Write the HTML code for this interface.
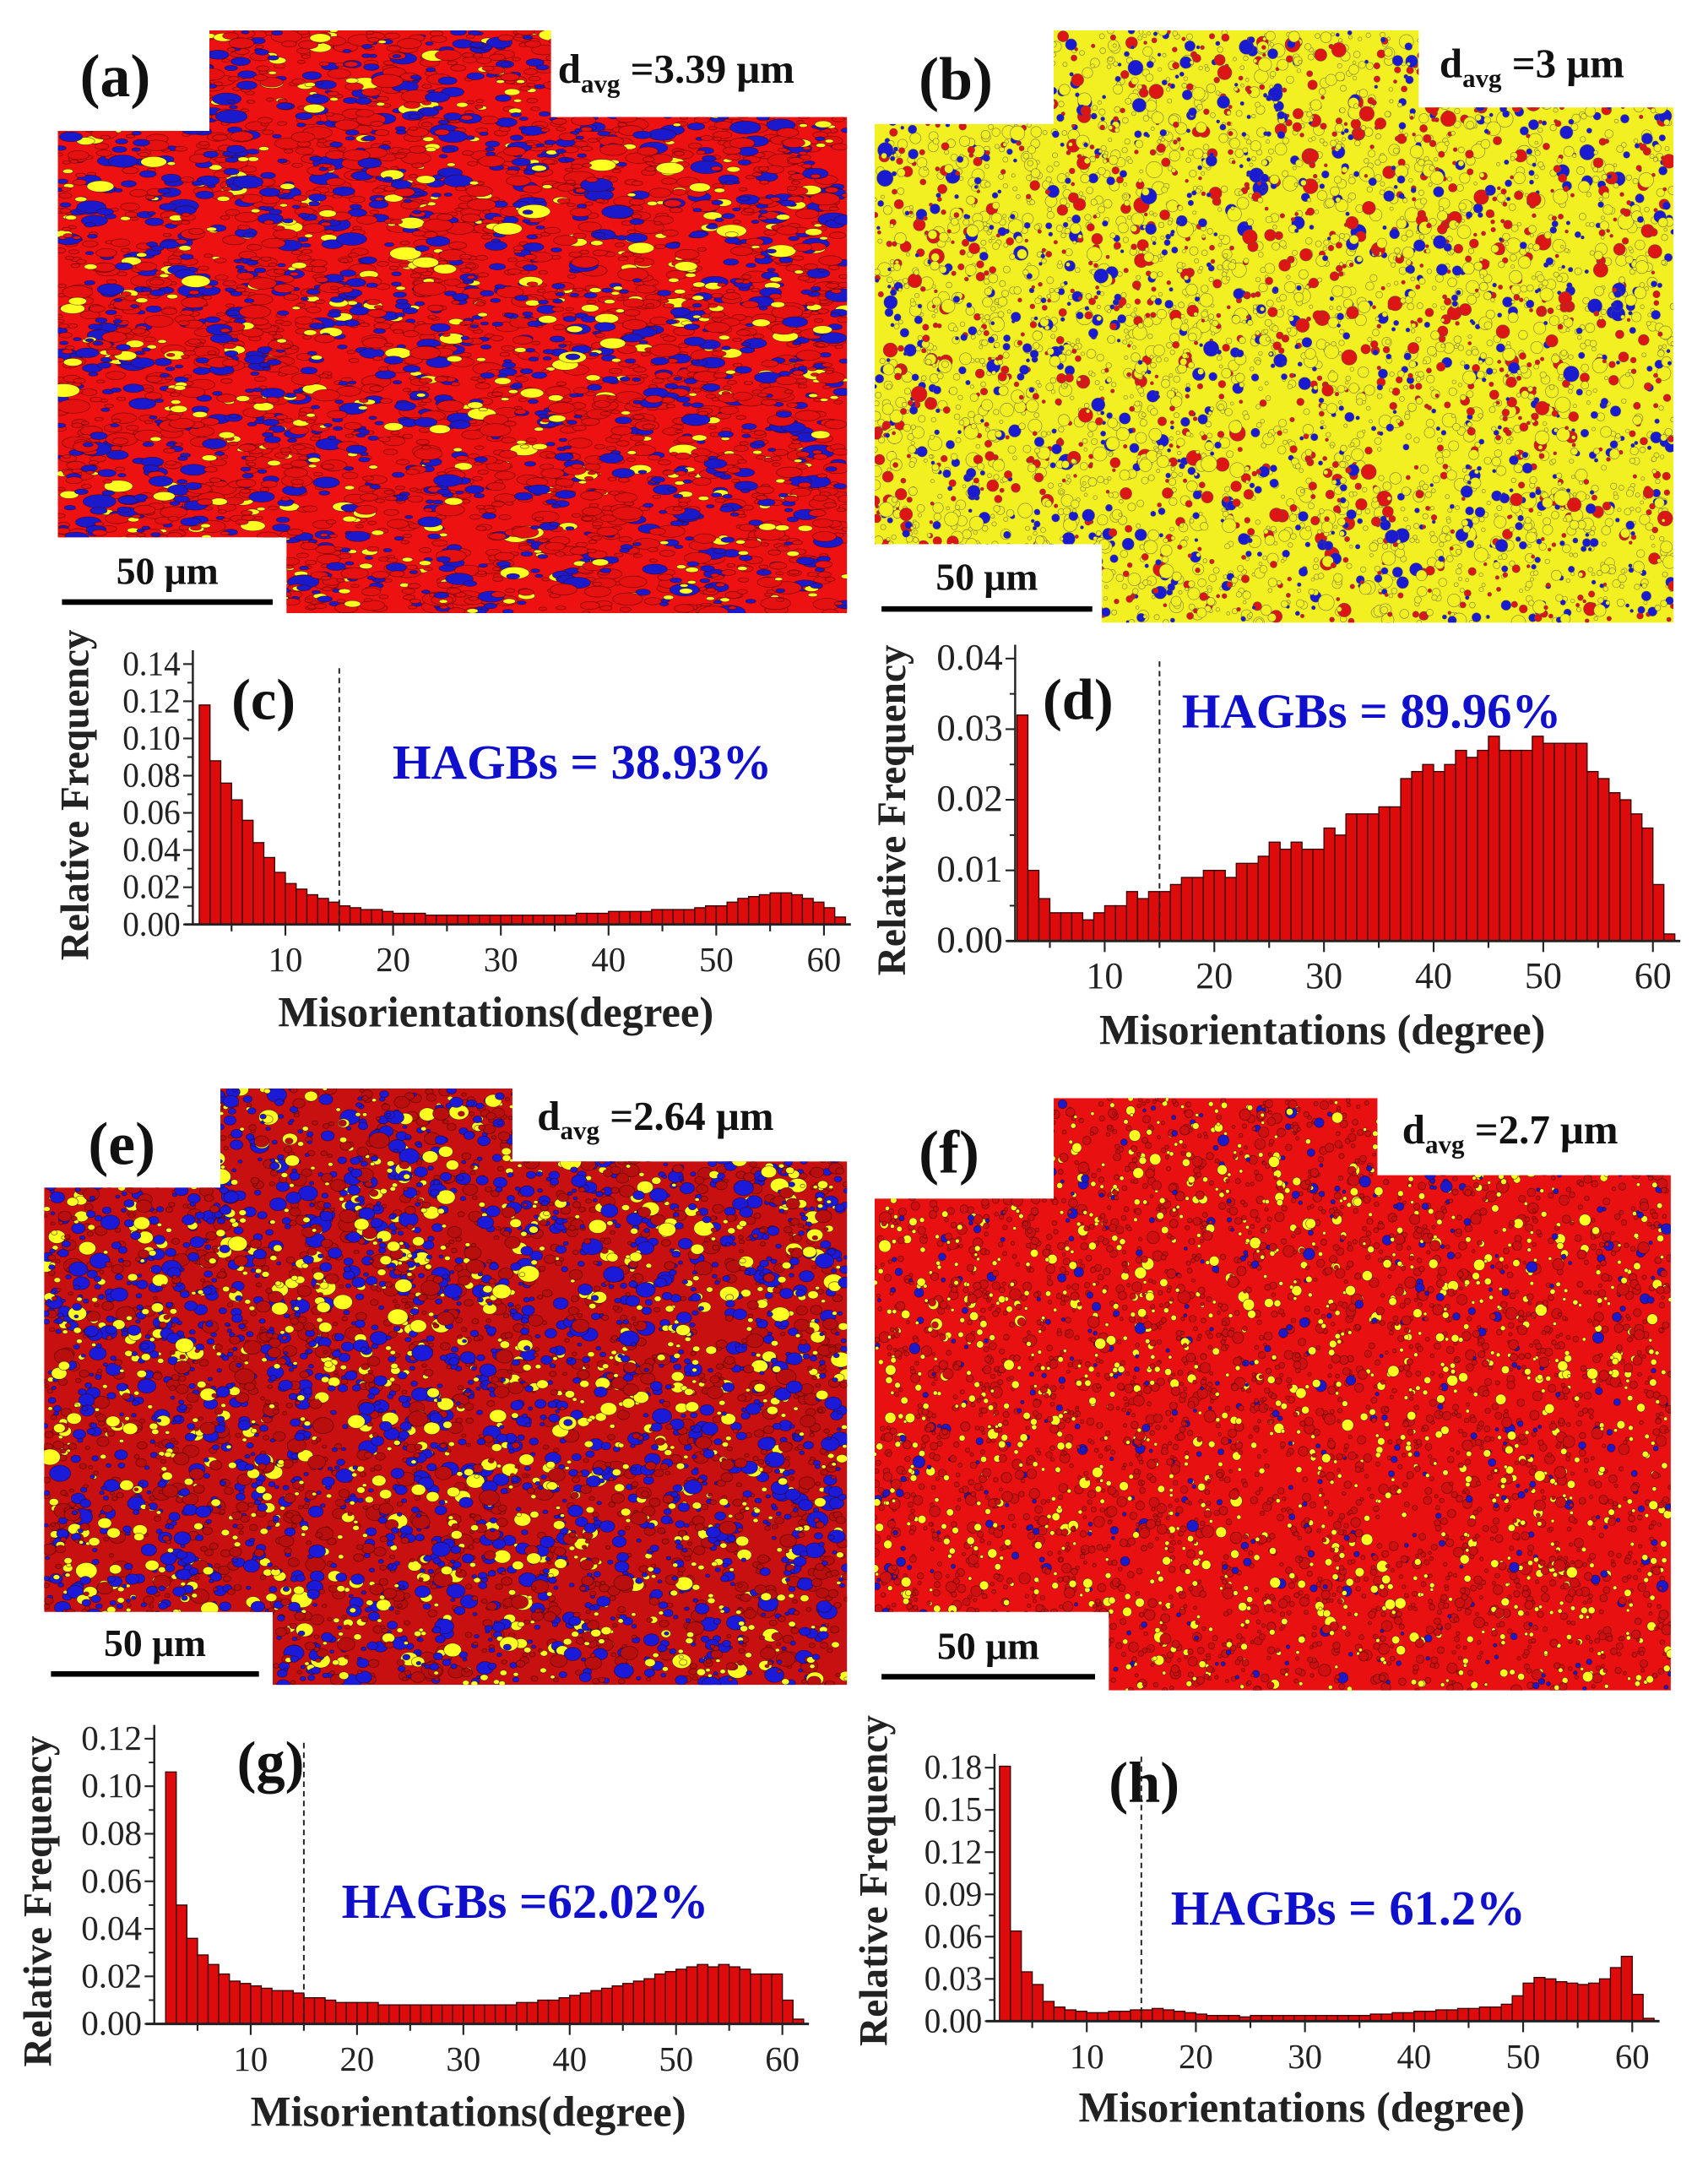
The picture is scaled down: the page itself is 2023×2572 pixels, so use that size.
<!DOCTYPE html>
<html><head><meta charset="utf-8">
<style>
html,body{margin:0;padding:0;background:#fff;}
svg{display:block;}
text{font-family:"Liberation Serif","Times New Roman",serif;}
</style></head>
<body>
<svg id="fig" width="2023" height="2572" viewBox="0 0 1240 1576.5" preserveAspectRatio="none" xmlns="http://www.w3.org/2000/svg">
<rect x="0" y="0" width="1240" height="1576.5" fill="#fff"/>
<defs>
<clipPath id="clipA"><polygon points="152,22 400,22 400,85 615,85 615,445 208,445 208,390 42,390 42,95 152,95"/></clipPath>
<clipPath id="clipB"><polygon points="765,22 1030,22 1030,78 1215,78 1215,452 800,452 800,395 635,395 635,90 765,90"/></clipPath>
<clipPath id="clipE"><polygon points="160,790 372,790 372,843 615,843 615,1223 198,1223 198,1170 32,1170 32,862 160,862"/></clipPath>
<clipPath id="clipF"><polygon points="765,797 1000,797 1000,853 1213,853 1213,1227 805,1227 805,1170 635,1170 635,870 765,870"/></clipPath>
</defs>
<g id="maps"></g>
<g id="charts"></g>
<g id="labels"></g>
</svg>
<script>
// ---------- chart data ----------
const binStart = 2;
const xTickLabels = [10,20,30,40,50,60];
const valuesC = [0.118,0.088,0.076,0.067,0.056,0.044,0.036,0.028,0.022,0.019,0.016,0.014,0.012,0.010,0.009,0.008,0.008,0.007,0.006,0.006,0.006,0.005,0.005,0.005,0.005,0.005,0.005,0.005,0.005,0.005,0.005,0.005,0.005,0.005,0.005,0.006,0.006,0.006,0.007,0.007,0.007,0.007,0.008,0.008,0.008,0.008,0.009,0.010,0.010,0.012,0.014,0.015,0.016,0.017,0.017,0.016,0.014,0.012,0.009,0.004];
const valuesD = [0.032,0.010,0.006,0.004,0.004,0.004,0.003,0.004,0.005,0.005,0.007,0.006,0.007,0.007,0.008,0.009,0.009,0.010,0.010,0.009,0.011,0.011,0.012,0.014,0.013,0.014,0.013,0.013,0.016,0.015,0.018,0.018,0.018,0.019,0.019,0.023,0.024,0.025,0.024,0.025,0.027,0.026,0.027,0.029,0.027,0.027,0.027,0.029,0.028,0.028,0.028,0.028,0.024,0.023,0.021,0.020,0.018,0.016,0.008,0.001];
const valuesG = [0.106,0.050,0.036,0.029,0.025,0.021,0.018,0.017,0.016,0.015,0.014,0.014,0.013,0.011,0.011,0.010,0.009,0.009,0.009,0.009,0.008,0.008,0.008,0.008,0.008,0.008,0.008,0.008,0.008,0.008,0.008,0.008,0.008,0.009,0.009,0.010,0.010,0.011,0.012,0.013,0.014,0.015,0.016,0.017,0.018,0.019,0.021,0.022,0.023,0.024,0.025,0.024,0.025,0.024,0.023,0.021,0.021,0.021,0.010,0.002];
const valuesH = [0.181,0.064,0.035,0.026,0.014,0.010,0.008,0.007,0.006,0.006,0.007,0.007,0.008,0.008,0.009,0.008,0.007,0.006,0.005,0.004,0.004,0.004,0.003,0.004,0.004,0.004,0.004,0.004,0.004,0.004,0.004,0.004,0.004,0.004,0.005,0.005,0.006,0.006,0.007,0.007,0.008,0.008,0.009,0.009,0.010,0.010,0.012,0.018,0.027,0.031,0.030,0.028,0.027,0.026,0.027,0.030,0.038,0.046,0.019,0.002];
const yTicksC = ["0.00","0.02","0.04","0.06","0.08","0.10","0.12","0.14"];
const yTicksD = ["0.00","0.01","0.02","0.03","0.04"];
const yTicksG = ["0.00","0.02","0.04","0.06","0.08","0.10","0.12"];
const yTicksH = ["0.00","0.03","0.06","0.09","0.12","0.15","0.18"];
const hagbC = "HAGBs = 38.93%", hagbD = "HAGBs = 89.96%", hagbG = "HAGBs =62.02%", hagbH = "HAGBs = 61.2%";

const NS = "http://www.w3.org/2000/svg";
function mk(tag, attrs, parent){ const e=document.createElementNS(NS,tag); for(const k in attrs) e.setAttribute(k,attrs[k]); if(parent) parent.appendChild(e); return e; }

// ---------- maps (decorative texture) ----------
let seed = 12345;
function rnd(){ seed = (seed*1103515245 + 12345) % 2147483648; return seed/2147483648; }
function drawMap(name, clip, bbox, base, palette, elong, n, strokeCol, smax){
  const g = mk('g', {'clip-path':'url(#'+clip+')'}, document.getElementById('maps'));
  
  
  mk('rect', {x:bbox[0],y:bbox[1],width:bbox[2]-bbox[0],height:bbox[3]-bbox[1],fill:base}, g);
  for(let i=0;i<n;i++){
    const r = rnd(); let acc=0, col=palette[0][0];
    for(const p of palette){ acc+=p[1]; if(r<acc){col=p[0];break;} }
    const cx = bbox[0]+rnd()*(bbox[2]-bbox[0]);
    const cy = bbox[1]+rnd()*(bbox[3]-bbox[1]);
    const sz = 1.2+rnd()*rnd()*smax;
    mk('ellipse', {cx:cx.toFixed(1),cy:cy.toFixed(1),rx:(sz*elong).toFixed(1),ry:sz.toFixed(1),fill:col,stroke:strokeCol,'stroke-width':0.4,'stroke-opacity':0.7}, g);
  }
}
drawMap('ebsd-map-a','clipA',[42,22,615,445],'#ee1111',[['#e51010',0.55],['#1a1acc',0.32],['#ffff22',0.13]],2.4,4500,'#400',4);
drawMap('ebsd-map-b','clipB',[635,22,1215,452],'#f2f020',[['#f2f020',0.55],['#1a1ad0',0.2],['#dd1515',0.25]],1,5000,'#555',5);
drawMap('ebsd-map-e','clipE',[32,790,615,1223],'#c81010',[['#b80e0e',0.35],['#1a1ad8',0.42],['#ffff22',0.23]],1.3,5500,'#300',5);
drawMap('ebsd-map-f','clipF',[635,797,1213,1227],'#e81010',[['#d01010',0.62],['#ffff22',0.28],['#1a1acc',0.10]],1,5000,'#300',3.5);

// ---------- histograms ----------
function drawHist(name, vals, yTicks, ymaxTick, ax, letter, hagb){
  const g = mk('g', {}, document.getElementById('charts'));
  
  
  const xs = d => ax.x0 + d*ax.ppd;
  const ys = v => ax.yb - v/ymaxTick*(ax.yb-ax.yt);
  vals.forEach((v,i)=>{
    const r = mk('rect', {x:xs(binStart+i).toFixed(2), y:ys(v).toFixed(2), width:ax.ppd.toFixed(2), height:(ax.yb-ys(v)).toFixed(2), fill:'#dd0b0b', stroke:'#300', 'stroke-width':0.8}, g);
    
    
  });
  const yAx = mk('line', {x1:ax.axisX,y1:ax.yb,x2:ax.axisX,y2:ax.yt-10,stroke:'#222','stroke-width':1.5}, g);
   
  const xAx = mk('line', {x1:ax.axisX-6,y1:ax.yb,x2:xs(62.5),y2:ax.yb,stroke:'#222','stroke-width':1.8}, g);
   
  const step = ymaxTick/(yTicks.length-1);
  yTicks.forEach((t,i)=>{
    const y = ys(step*i);
    mk('line',{x1:ax.axisX-7,y1:y,x2:ax.axisX,y2:y,stroke:'#222','stroke-width':1.3},g);
    if(i<yTicks.length-1) mk('line',{x1:ax.axisX-4,y1:ys(step*(i+0.5)),x2:ax.axisX,y2:ys(step*(i+0.5)),stroke:'#222','stroke-width':1.2},g);
    const tx = mk('text',{x:ax.axisX-9,y:y+8,'font-size':ax.fs,'text-anchor':'end',fill:'#222',textLength:ax.tl,lengthAdjust:'spacingAndGlyphs'},g);
    tx.textContent = t;
     
  });
  for(let d=5; d<=60; d+=5){
    const major = d%10===0;
    mk('line',{x1:xs(d),y1:ax.yb,x2:xs(d),y2:ax.yb+(major?8:5),stroke:'#222','stroke-width':1.3},g);
  }
  xTickLabels.forEach(d=>{
    const tx = mk('text',{x:xs(d),y:ax.yb+34,'font-size':ax.fs,'text-anchor':'middle',fill:'#222'},g);
    tx.textContent = d;
     
  });
  const dl = mk('line',{x1:xs(15),y1:ax.dashTop,x2:xs(15),y2:ax.yb,stroke:'#222','stroke-width':1.2,'stroke-dasharray':'4,3'},g);
   
  const yt = mk('text',{x:0,y:0,'font-size':29,'font-weight':'bold','text-anchor':'middle',fill:'#222',transform:`translate(${ax.ytX},${ax.ytY}) rotate(-90)`},g);
  yt.textContent = 'Relative Frequency';
   
  const xt = mk('text',{x:ax.xtX,y:ax.xtY,'font-size':31,'font-weight':'bold','text-anchor':'middle',fill:'#222'},g);
  xt.textContent = ax.xtitle;
   
  const lt = mk('text',{x:ax.lx,y:ax.ly,'font-size':42,'font-weight':'bold',fill:'#111'},g);
  lt.textContent = letter;
   
  const ht = mk('text',{x:ax.hx,y:ax.hy,'font-size':36,'font-weight':'bold',fill:'#1010cc'},g);
  ht.textContent = hagb;
   
}
drawHist('histogram-c', valuesC, yTicksC, 0.14, {x0:129,ppd:7.82,yb:671,yt:482,axisX:140,fs:25,tl:42,dashTop:485,ytX:64,ytY:577,xtX:360,xtY:745,xtitle:'Misorientations(degree)',lx:168,ly:522,hx:285,hy:565}, '(c)', hagbC);
drawHist('histogram-d', valuesD, yTicksD, 0.04, {x0:722.4,ppd:7.96,yb:683,yt:478,axisX:737,fs:27,tl:48,dashTop:480,ytX:657,ytY:588,xtX:960,xtY:758,xtitle:'Misorientations (degree)',lx:757,ly:522,hx:858,hy:528}, '(d)', hagbD);
drawHist('histogram-g', valuesG, yTicksG, 0.12, {x0:104.8,ppd:7.72,yb:1469,yt:1262,axisX:112,fs:25,tl:44,dashTop:1265,ytX:37,ytY:1380,xtX:340,xtY:1543,xtitle:'Misorientations(degree)',lx:172,ly:1293,hx:248,hy:1392}, '(g)', hagbG);
drawHist('histogram-h', valuesH, yTicksH, 0.18, {x0:709.8,ppd:7.92,yb:1467,yt:1283,axisX:722,fs:25,tl:42,dashTop:1275,ytX:644,ytY:1365,xtX:945,xtY:1540,xtitle:'Misorientations (degree)',lx:805,ly:1308,hx:850,hy:1397}, '(h)', hagbH);

// ---------- map labels ----------
const L = document.getElementById('labels');
function txt(name, x, y, size, content, anchor){
  const t = mk('text',{x:x,y:y,'font-size':size,'font-weight':'bold',fill:'#111','text-anchor':anchor||'start'},L);
  t.textContent = content;
  
  
  return t;
}
function davg(name, x, y, val){
  const t = mk('text',{x:x,y:y,'font-size':30,'font-weight':'bold',fill:'#111'},L);
  
  
  const a = mk('tspan',{},t); a.textContent='d';
  const b = mk('tspan',{'font-size':19,dy:7},t); b.textContent='avg';
  const c = mk('tspan',{dy:-7},t); c.textContent=' =' + val + ' μm';
}
function scalebar(name, x1, x2, y, ty){
  const l = mk('line',{x1:x1,y1:y,x2:x2,y2:y,stroke:'#000','stroke-width':4},L);
  
  
  txt(name+'-label', (x1+x2)/2, ty, 28, '50 μm', 'middle');
}
txt('panel-label-a', 58, 70, 44, '(a)');
txt('panel-label-b', 667, 72, 44, '(b)');
txt('panel-label-e', 64, 845, 44, '(e)');
txt('panel-label-f', 667, 851, 44, '(f)');
davg('davg-a', 405, 60, '3.39');
davg('davg-b', 1045, 56, '3');
davg('davg-e', 390, 820, '2.64');
davg('davg-f', 1018, 830, '2.7');
scalebar('scale-bar-a', 45, 198, 437, 424);
scalebar('scale-bar-b', 640, 793, 442, 428);
scalebar('scale-bar-e', 37, 188, 1215, 1202);
scalebar('scale-bar-f', 640, 795, 1217, 1204);
</script>
</body></html>
